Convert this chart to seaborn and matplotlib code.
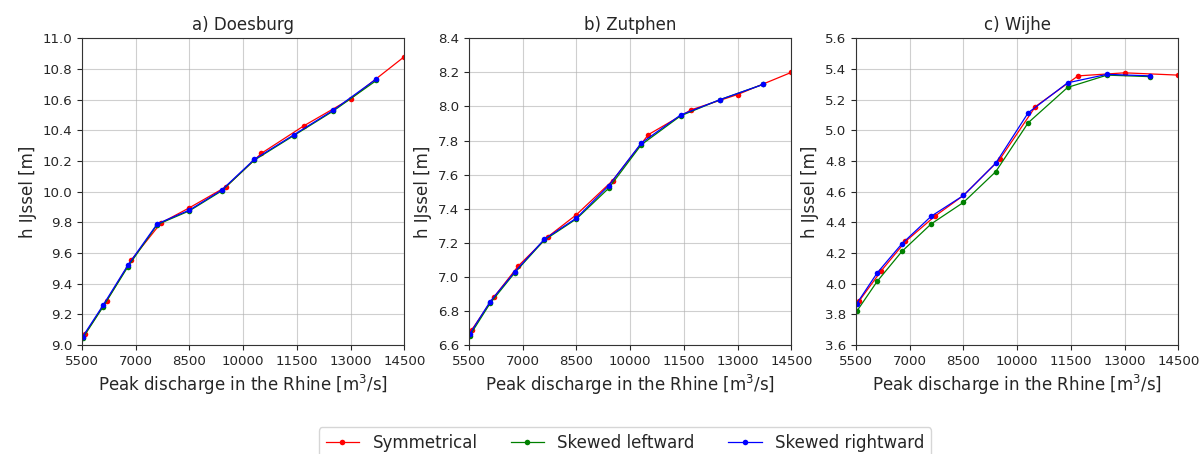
import numpy as np
import pandas as pd
import matplotlib
matplotlib.use("Agg")
import matplotlib.pyplot as plt
import seaborn as sns

# ---- data ----
q_sym = [5580, 6190, 6880, 7700, 8500, 9510, 10510, 11700, 13000, 14500]
q_skew = [5520, 6090, 6780, 7600, 8500, 9400, 10310, 11410, 12510, 13720]

doesburg_sym = [9.07, 9.29, 9.555, 9.795, 9.895, 10.03, 10.25, 10.43, 10.605, 10.88]
doesburg_left = [9.045, 9.25, 9.51, 9.785, 9.875, 10.005, 10.205, 10.365, 10.525, 10.725]
doesburg_right = [9.055, 9.26, 9.52, 9.79, 9.88, 10.01, 10.21, 10.37, 10.53, 10.735]

zutphen_sym = [6.69, 6.88, 7.065, 7.235, 7.365, 7.565, 7.835, 7.98, 8.07, 8.20]
zutphen_left = [6.655, 6.845, 7.025, 7.215, 7.34, 7.52, 7.775, 7.945, 8.04, 8.13]
zutphen_right = [6.665, 6.855, 7.03, 7.22, 7.345, 7.535, 7.785, 7.95, 8.04, 8.13]

wijhe_sym = [3.885, 4.08, 4.275, 4.44, 4.575, 4.81, 5.155, 5.355, 5.375, 5.36]
wijhe_left = [3.82, 4.015, 4.21, 4.39, 4.53, 4.73, 5.05, 5.28, 5.36, 5.35]
wijhe_right = [3.87, 4.07, 4.26, 4.44, 4.575, 4.785, 5.115, 5.31, 5.365, 5.355]

titles = ["a) Doesburg", "b) Zutphen", "c) Wijhe"]
series_names = ["Symmetrical", "Skewed leftward", "Skewed rightward"]
ylims = [(9.0, 11.0), (6.6, 8.4), (3.6, 5.6)]
xticks = [5500, 7000, 8500, 10000, 11500, 13000, 14500]

stations = [
    (doesburg_sym, doesburg_left, doesburg_right),
    (zutphen_sym, zutphen_left, zutphen_right),
    (wijhe_sym, wijhe_left, wijhe_right),
]

palette = {"Symmetrical": "red", "Skewed leftward": "green", "Skewed rightward": "blue"}

text_color = "#262626"
plt.rcParams["font.family"] = ["DejaVu Sans"]
plt.rcParams["text.color"] = text_color
plt.rcParams["axes.labelcolor"] = text_color
plt.rcParams["xtick.color"] = text_color
plt.rcParams["ytick.color"] = text_color

fig, axes = plt.subplots(1, 3, figsize=(12.01, 4.54), dpi=100)
fig.subplots_adjust(left=0.0683, right=0.9811, bottom=0.2401, top=0.9156, wspace=0.201)

for ax, title, (s, l, r), ylim in zip(axes, titles, stations, ylims):
    frames = []
    for name, xs, ys in zip(series_names, [q_sym, q_skew, q_skew], [s, l, r]):
        frames.append(pd.DataFrame({"Q": xs, "h": ys, "series": name}))
    df = pd.concat(frames, ignore_index=True)
    sns.lineplot(data=df, x="Q", y="h", hue="series", hue_order=series_names,
                 palette=palette, marker="o", markersize=4, markeredgewidth=0,
                 linewidth=0.9, sort=False, ax=ax, legend=True)
    ax.set_xlim(5500, 14500)
    ax.set_ylim(*ylim)
    ax.set_xticks(xticks)
    ax.set_yticks(np.round(np.arange(ylim[0], ylim[1] + 0.01, 0.2), 1))
    ax.yaxis.set_major_formatter(matplotlib.ticker.FormatStrFormatter("%.1f"))
    ax.tick_params(labelsize=9.6)
    ax.grid(True, color="#b0b0b0", linewidth=0.8, alpha=0.6)
    ax.set_axisbelow(True)
    ax.set_title(title, fontsize=12)
    ax.set_xlabel(r"Peak discharge in the Rhine [m$^3$/s]", fontsize=12)
    ax.set_ylabel("h IJssel [m]", fontsize=12)
    for sp in ax.spines.values():
        sp.set_color("#333333")

handles, labels = axes[0].get_legend_handles_labels()
for ax in axes:
    ax.get_legend().remove()

fig.legend(handles, labels, loc="upper center", bbox_to_anchor=(0.5204, 0.0588),
           ncol=3, fontsize=12, borderaxespad=0, frameon=True)

fig.savefig("out.png", dpi=100)
